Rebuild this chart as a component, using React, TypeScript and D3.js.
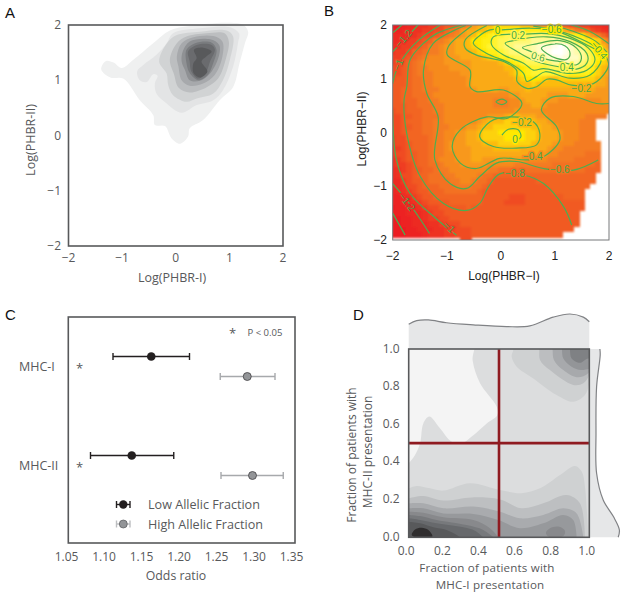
import React from 'react';
import * as d3 from 'd3';

type Pt = [number, number];

// panel A: density bands, outer to inner
const densityColors = ['#eff0f0', '#e3e4e5', '#d1d3d4', '#bcbec0', '#a7a9ac', '#8f9194', '#7a7c7f', '#6a6b6e', '#58595b'];
const densityBands: Pt[][] = [
  [[-1.39, 1.2], [-1.3, 1.35], [-1.16, 1.32], [-1.01, 1.22], [-0.79, 1.37], [-0.42, 1.67], [-0.11, 1.9], [0.26, 1.98], [0.95, 2.04], [1.26, 2.0], [1.35, 1.88], [1.29, 1.67], [1.19, 1.31], [1.07, 0.88], [0.82, 0.64], [0.51, 0.28], [0.26, 0.13], [0.23, -0.02], [0.08, -0.15], [-0.08, -0.05], [-0.2, 0.17], [-0.39, 0.19], [-0.42, 0.37], [-0.67, 0.64], [-0.98, 1.03], [-1.22, 1.05]],
  [[-0.72, 1.16], [-0.6, 1.28], [-0.36, 1.46], [-0.17, 1.67], [-0.05, 1.85], [0.45, 1.94], [1.01, 1.96], [1.18, 1.85], [1.16, 1.67], [1.07, 1.25], [0.88, 0.82], [0.7, 0.64], [0.39, 0.55], [0.11, 0.41], [-0.17, 0.58], [-0.36, 0.76], [-0.39, 0.94], [-0.34, 1.08], [-0.42, 1.11], [-0.54, 0.97], [-0.67, 1.0]],
  [[-0.31, 1.34], [-0.14, 1.7], [0.02, 1.82], [0.45, 1.88], [0.95, 1.9], [1.07, 1.79], [1.01, 1.37], [0.88, 1.0], [0.7, 0.76], [0.39, 0.67], [0.2, 0.61], [-0.05, 0.73], [-0.14, 0.91], [-0.17, 1.12]],
  [[-0.11, 1.37], [0.02, 1.67], [0.2, 1.79], [0.57, 1.85], [0.91, 1.85], [0.99, 1.7], [0.93, 1.37], [0.79, 1.03], [0.57, 0.87], [0.26, 0.78], [0.05, 0.87], [-0.03, 1.1]],
  [[0.02, 1.43], [0.11, 1.67], [0.33, 1.78], [0.7, 1.8], [0.87, 1.7], [0.87, 1.43], [0.73, 1.1], [0.51, 0.94], [0.26, 0.9], [0.11, 1.0], [0.05, 1.25]],
  [[0.13, 1.52], [0.26, 1.7], [0.64, 1.74], [0.81, 1.64], [0.81, 1.46], [0.67, 1.16], [0.45, 0.99], [0.26, 1.0], [0.17, 1.19], [0.11, 1.34]],
  [[0.2, 1.55], [0.36, 1.67], [0.67, 1.68], [0.76, 1.55], [0.7, 1.31], [0.6, 1.1], [0.42, 1.0], [0.26, 1.13], [0.2, 1.31]],
  [[0.23, 1.52], [0.39, 1.64], [0.67, 1.64], [0.73, 1.55], [0.64, 1.34], [0.57, 1.16], [0.42, 1.03], [0.29, 1.16], [0.26, 1.34]],
  [[0.34, 1.55], [0.51, 1.59], [0.67, 1.52], [0.57, 1.43], [0.48, 1.34], [0.59, 1.16], [0.45, 1.05], [0.33, 1.13], [0.33, 1.31], [0.39, 1.4]],
];

// panel B: cell values, a = -1.5 up to z = 1.0 in steps of 0.1, dot = no data
const heatRows = [
  'aabccddeef gghijlmnno oooonnmlkj ihgffeeddc c',
  'bbccddeeff hijlmmnnop pqqqqqqqpp pomljihfed c',
  'cccddeffgh ijklmnppqr rssssstttt tsrqqpnljh f',
  'ccdeefghjj klmmnppqqr ssttttuuuu vvutsrqpol j',
  'cdeefghjjk llmmnopqrr sttuuuvwxx yzywutrqon l',
  'deefhhijjk llmmmnopqq rsttuuvwxy zzywvusrpo n',
  'eefghijkkk lllmmmmnop qqrsstuuvw xyxwwutrqo n',
  'efghijkkkk lllllmmmmm nopqrsssst uuvvvtsrpo n',
  'ffghijjkkk kllllmmmmm mnnopqrrrs sssstsrqon m',
  'ffghijjjkk kkkllmmmmm mmnopqrrrr rrrqqqqpom m',
  'fgghiijjkk kkkklmmmmm mmmnopppon nooooooonm l',
  'ggghiijjkk kkkklmmmmm mmmmnnonnn nnnnnnnnmm l',
  'gghhiijjjk kkkkklmmmm llmmmnmmmm mmmmmmmmll l',
  'gghhiiijkk kkkkkkkkkk kkllmmmmml lllmmmllll l',
  'gghhhiijjk kkkkkkkkkj jjkklmmmll lkkkkkkkkl l',
  'ggghhiiijj kkkkkkkkkj jjkkllmmlk kkkkkkkkkk k',
  'fgghhhiijj kkkkkkkkkk kkklllllkk kkkkkkkkkk k',
  'ffgghhiiij kkkkkkkkll lmnnmmmllk kkkkkkjjjj .',
  'ffghhhiijj kkkkkklmnn nooonnnmml kkkkkjjj.. .',
  'ffgghhiijj jkkkllmnno oooooonnmm lkkkkjjj.. .',
  'ffghhhiijj kkllmmnooo pppppoonmm mlkkkjjj.. .',
  'effhhhhijj kkllmmnooo oppppoonmm mlkkkjjj.. .',
  'effghhhijj klllmmmnnn oooooonmmm lkkkjjjjj. .',
  'eefghhhijj kllllmmmmn nnnnmmmmml kkjjjjjjj. .',
  'effgghhijj kklllmmmmm mmmmmmmmlk kjjjjjiii. .',
  'defgghhijk kklllmmlll lllllkkkkj jjjjiiiii. .',
  'deefghhiij kkklllllkk kkkjjjjjjj iiiiiiiih. .',
  'cdefgghhij jkkkkkkkjj iiiiiiiiii iiiiiihhh. .',
  'cdffghhiii jjkkkkjiih hhhhhhhhhh hhhhhhhh.. .',
  'ccefgghiii ijjkkjiihg ggggggghhh hhhhhhhh.. .',
  'ccdffghhhi iijjjiihgg gggggggggh hhhhhhh... .',
  'bcdefgghhh iiiiiihggg gggggggggg hhhhhh.... .',
  'bbcdefgghh hhhhhhhggg ggfffggggg gghhhh.... .',
  'bbccdefggg ghhhhhhggg gffffggggg gggggg.... .',
  'abbccdeffg gggghggggg gggggggggg gggggg.... .',
  'bbbcccdeff gggggggggg gggggggggg ggggg..... .',
  'aabbccdeef fggggggggg gggggggggg ggggg..... .',
  'aabbcccdde fffggggggg gggggggggg ggggg..... .',
  'aaabbcccdd eefffggggg gggggggggg gggg...... .',
  'aaabbbcddd eefffggggg gggggggggg gg........ .',
  '.......... ...ff..... .......... .......... .',
];

// panel B: contour lines
const openContours: Pt[][] = [
  [[-1.99, 1.86], [-1.83, 2.0]],
  [[-2, 1.5], [-1.68, 1.84], [-1.53, 2.0]],
  [[-2, 0.91], [-1.93, 1.16], [-1.77, 1.44], [-1.53, 1.71], [-1.12, 2.0]],
  [[-0.72, 2], [-1.19, 1.84], [-1.43, 1.66], [-1.68, 1.35], [-1.74, 0.85], [-1.79, 0.6], [-1.74, -0.02], [-1.49, -0.82], [-1.06, -1.32], [-0.63, -1.45], [-0.39, -1.32], [-0.23, -1.01], [-0.02, -0.77], [0.42, -0.79], [0.79, -0.95], [1.16, -1.38], [1.31, -1.72]],
  [[-0.65, 1.99], [-1.25, 1.66], [-1.43, 1.16], [-1.37, 0.73], [-1.16, 0.29], [-1.22, -0.51], [-0.94, -0.95], [-0.63, -1.04], [-0.39, -0.82], [-0.08, -0.57], [0.29, -0.54], [0.79, -0.67], [1.34, -0.7], [1.8, -0.51]],
  [[-0.54, 1.98], [-0.97, 1.6], [-0.99, 1.44], [-0.57, 1.16], [-0.57, 0.85], [-0.45, 0.76], [0.05, 0.79], [0.39, 0.54], [0.11, 0.26], [-0.26, 0.29], [-0.75, 0.05], [-0.9, -0.26], [-0.75, -0.57], [-0.45, -0.67], [-0.02, -0.48], [0.48, -0.51], [0.79, -0.45], [1.09, -0.14], [1.03, 0.11], [0.75, 0.42], [0.91, 0.64], [1.34, 0.67], [1.77, 0.54], [2.0, 0.54]],
  [[-0.26, 1.99], [-0.66, 1.72], [-0.66, 1.57], [-0.45, 1.44], [0.05, 1.32], [0.29, 1.16], [0.3, 0.95], [0.48, 0.82], [0.66, 0.85], [0.85, 0.99], [1.03, 0.98], [1.31, 0.88], [1.71, 0.91], [1.96, 1.16], [2, 1.29]],
  [[0.02, -0.05], [0.14, 0.06], [0.32, 0.05], [0.37, -0.08], [0.26, -0.16]],
  [[-2, -0.95], [-1.74, -1.26], [-1.5, -1.6], [-1.32, -1.88]],
  [[-2, -1.5], [-1.77, -1.91]],
  [[-2, 0.42], [-1.93, -0.51], [-1.68, -1.13], [-1.2, -1.6], [-0.82, -1.91]],
  [[0.6, 1.98], [1.0, 1.9], [1.55, 1.65], [1.95, 1.4], [2, 1.2]],
  [[0.95, 2], [1.4, 1.86], [1.75, 1.7], [2, 1.45]],
  [[1.3, 2], [1.65, 1.88], [2, 1.65]],
];
const closedContours: Pt[][] = [
  [[-0.09, 0.57], [0.02, 0.62], [0.11, 0.57], [0.02, 0.52]],
  [[-0.39, -0.08], [-0.2, 0.2], [0.17, 0.29], [0.6, 0.2], [0.72, -0.02], [0.66, -0.23], [0.29, -0.29], [-0.14, -0.26]],
  [[-0.2, 1.91], [-0.42, 1.78], [-0.51, 1.66], [-0.26, 1.47], [0.17, 1.29], [0.42, 1.1], [0.48, 0.95], [0.66, 1.04], [0.82, 1.13], [1.28, 1.01], [1.65, 1.07], [1.86, 1.35], [1.77, 1.57], [1.46, 1.75], [0.97, 1.91], [0.54, 1.94], [0.02, 1.91]],
  [[0.2, 1.83], [-0.14, 1.78], [-0.17, 1.63], [0.05, 1.44], [0.42, 1.29], [0.6, 1.16], [0.79, 1.19], [1.28, 1.1], [1.59, 1.16], [1.74, 1.35], [1.62, 1.57], [1.28, 1.75], [0.85, 1.84], [0.39, 1.83]],
  [[0.08, 1.66], [0.23, 1.71], [0.85, 1.78], [1.28, 1.69], [1.59, 1.47], [1.59, 1.29], [1.4, 1.18], [1.09, 1.22], [0.66, 1.32], [0.26, 1.53]],
  [[0.4, 1.58], [0.66, 1.65], [1.09, 1.71], [1.4, 1.57], [1.49, 1.38], [1.4, 1.26], [1.09, 1.32], [0.85, 1.36], [0.57, 1.5]],
  [[0.75, 1.57], [1.0, 1.65], [1.19, 1.61], [1.28, 1.47], [1.22, 1.36], [1.03, 1.38], [0.85, 1.47]],
];
const contourLabels: { text: string; x: number; y: number; angle: number }[] = [
  { text: '−1.2', x: -1.8, y: 1.75, angle: -48 },
  { text: '−1', x: -1.9, y: 1.26, angle: -68 },
  { text: '0', x: -0.06, y: 1.89, angle: 0 },
  { text: '0.2', x: 0.32, y: 1.8, angle: 0 },
  { text: '−0.6', x: 0.94, y: 1.92, angle: 0 },
  { text: '0.6', x: 0.69, y: 1.41, angle: 15 },
  { text: '0.4', x: 1.22, y: 1.21, angle: 0 },
  { text: '−0.4', x: 1.82, y: 1.53, angle: 50 },
  { text: '−0.2', x: 1.49, y: 0.82, angle: 0 },
  { text: '−0.2', x: 0.39, y: 0.18, angle: 0 },
  { text: '0', x: 0.26, y: -0.13, angle: 0 },
  { text: '−0.4', x: 0.59, y: -0.45, angle: 0 },
  { text: '−0.6', x: 1.09, y: -0.69, angle: 0 },
  { text: '−0.8', x: 0.26, y: -0.77, angle: 0 },
  { text: '−1.2', x: -1.74, y: -1.29, angle: 52 },
  { text: '−1', x: -0.95, y: -1.76, angle: 45 },
];

// panel C
const classes = ['MHC-I', 'MHC-II'];
const lowOdds = [1.163, 1.137];
const lowLo = [1.112, 1.082];
const lowHi = [1.214, 1.193];
const highOdds = [1.291, 1.298];
const highLo = [1.255, 1.256];
const highHi = [1.328, 1.339];
const oddsTicks = [1.05, 1.1, 1.15, 1.2, 1.25, 1.3, 1.35];

// panel D
const fracTicks = [0, 0.2, 0.4, 0.6, 0.8, 1];
const topMarginalX = [0, 0.044, 0.109, 0.21, 0.358, 0.542, 0.671, 0.8, 0.893, 0.967, 1];
const topMarginal = [0.71, 0.81, 0.83, 0.75, 0.69, 0.64, 0.66, 0.91, 1.0, 0.91, 0.78];
const rightMarginalY = [1, 0.968, 0.8, 0.552, 0.34, 0.198, 0.11, 0.039, 0];
const rightMarginal = [0.33, 0.34, 0.22, 0.2, 0.22, 0.44, 0.78, 0.98, 0.94];
const lightRegion: Pt[] = [[-0.05, 1.05], [0.36, 1.05], [0.354, 0.94], [0.395, 0.818], [0.487, 0.694], [0.491, 0.65], [0.432, 0.605], [0.349, 0.535], [0.303, 0.503], [0.238, 0.508], [0.173, 0.579], [0.114, 0.641], [0.081, 0.605], [0.063, 0.499], [0.035, 0.437], [0, 0.393], [-0.05, 0.35]];
const floorColors = ['#cfd1d2', '#bdbfc1', '#a9abae', '#97999c', '#88898c', '#77797c', '#67696c', '#58595b'];
const floorBands: Pt[][] = [
  [[0, 0.26], [0.044, 0.273], [0.118, 0.26], [0.192, 0.248], [0.339, 0.287], [0.506, 0.251], [0.625, 0.234], [0.727, 0.26], [0.838, 0.331], [0.921, 0.379], [0.958, 0.349], [0.976, 0.269], [0.994, 0.0]],
  [[0, 0.207], [0.081, 0.219], [0.192, 0.195], [0.349, 0.212], [0.506, 0.201], [0.625, 0.154], [0.745, 0.181], [0.875, 0.225], [0.948, 0.181], [0.976, 0.0]],
  [[0, 0.181], [0.081, 0.181], [0.192, 0.154], [0.358, 0.163], [0.506, 0.136], [0.616, 0.101], [0.745, 0.119], [0.856, 0.154], [0.93, 0.127], [0.967, 0.0]],
  [[0, 0.154], [0.081, 0.154], [0.192, 0.127], [0.358, 0.124], [0.496, 0.092], [0.616, 0.048], [0.745, 0.074], [0.856, 0.119], [0.911, 0.092], [0.93, 0.0]],
  [[0, 0.136], [0.081, 0.131], [0.192, 0.106], [0.358, 0.092], [0.45, 0.048], [0.496, 0.0]],
  [[0, 0.119], [0.063, 0.113], [0.155, 0.092], [0.321, 0.065], [0.413, 0.039], [0.469, 0.0]],
  [[0, 0.101], [0.063, 0.092], [0.155, 0.074], [0.303, 0.053], [0.367, 0.035], [0.413, 0.0]],
  [[0, 0.083], [0.063, 0.074], [0.137, 0.053], [0.21, 0.039], [0.266, 0.012], [0.284, 0.0]],
];
const floorPeak: Pt[] = [[0.017, 0.012], [0.035, 0.042], [0.072, 0.051], [0.109, 0.039], [0.131, 0.004], [0.07, -0.01]];
const sidePeak: Pt[] = [[0.76, 0.025], [0.782, 0.048], [0.828, 0.057], [0.865, 0.035], [0.856, 0.007], [0.773, 0.004]];
const cornerColors = ['#cfd1d2', '#bcbec0', '#a7a9ac', '#939598', '#7f8184'];
const cornerBands: Pt[][] = [
  [[0.579, 1.05], [0.579, 0.995], [0.57, 0.96], [0.598, 0.906], [0.69, 0.844], [0.819, 0.756], [0.911, 0.72], [0.976, 0.756], [1.0, 0.818], [1.05, 1.05]],
  [[0.72, 1.05], [0.723, 0.995], [0.727, 0.942], [0.782, 0.888], [0.911, 0.809], [0.967, 0.818], [1.0, 0.862], [1.05, 1.05]],
  [[0.797, 1.05], [0.797, 0.995], [0.804, 0.942], [0.856, 0.888], [0.93, 0.85], [0.994, 0.871], [1.05, 1.05]],
  [[0.85, 1.05], [0.849, 0.995], [0.856, 0.95], [0.902, 0.906], [0.958, 0.888], [1.05, 0.924], [1.05, 1.05]],
  [[0.893, 1.05], [0.893, 0.995], [0.902, 0.95], [0.948, 0.927], [0.994, 0.95], [1.05, 0.93], [1.05, 1.05]],
];

const sans = "'Open Sans', sans-serif";
const helv = "'Liberation Sans', Arial, sans-serif";
const grey = '#58595b';
const green = '#4cae50';
const fmtMinus = (v: number) => String(v).replace('-', '−');

const heatColor = d3
  .scaleLinear<string>()
  .domain([-1.5, -1.2, -0.9, -0.6, -0.4, -0.2, -0.1, 0, 0.2, 0.5, 0.8, 1])
  .range(['#ec1c24', '#ee3024', '#f15a24', '#f47c20', '#f8981c', '#fcbb10', '#fdd20a', '#fee900', '#fff430', '#fffa95', '#fffdd8', '#ffffff']);

const cellValue = (ch: string) => (ch === '.' ? null : -1.5 + (ch.charCodeAt(0) - 97) * 0.1);
const heatCells = heatRows.map((r) => r.replace(/ /g, '').split('').map(cellValue));

const App = () => {
  const xA = d3.scaleLinear().domain([-2, 2]).range([68.5, 283]);
  const yA = d3.scaleLinear().domain([-2, 2]).range([246, 25]);
  const xB = d3.scaleLinear().domain([-2, 2]).range([392.7, 609]);
  const yB = d3.scaleLinear().domain([-2, 2]).range([240, 25]);
  const xC = d3.scaleLinear().domain([1.05, 1.35]).range([66.5, 291.5]);
  const yC = d3.scalePoint<string>().domain(classes).range([366.5, 465.5]);
  const xD = d3.scaleLinear().domain([0, 1]).range([408.7, 589.3]);
  const yD = d3.scaleLinear().domain([0, 1]).range([537.3, 349]);
  const topH = d3.scaleLinear().domain([0, 1]).range([349, 314]);
  const rightW = d3.scaleLinear().domain([0, 1]).range([590, 620]);

  const lineA = d3.line<Pt>().x((d) => xA(d[0])).y((d) => yA(d[1])).curve(d3.curveCatmullRomClosed.alpha(0.5));
  const openB = d3.line<Pt>().x((d) => xB(d[0])).y((d) => yB(d[1])).curve(d3.curveCatmullRom.alpha(0.5));
  const closedB = d3.line<Pt>().x((d) => xB(d[0])).y((d) => yB(d[1])).curve(d3.curveCatmullRomClosed.alpha(0.5));
  const lineD = d3.line<Pt>().x((d) => xD(d[0])).y((d) => yD(d[1])).curve(d3.curveCatmullRomClosed.alpha(0.5));
  // floor bands run from the left edge to the bottom, so close them along the bottom with straight lines
  const floorPath = (pts: Pt[]) => {
    const top = d3.line<Pt>().x((d) => xD(d[0])).y((d) => yD(d[1])).curve(d3.curveCatmullRom.alpha(0.5))(pts);
    return top + `L${xD(pts[pts.length - 1][0])},${yD(-0.02)}L${xD(-0.02)},${yD(-0.02)}L${xD(-0.02)},${yD(pts[0][1])}Z`;
  };
  const topArea = d3
    .area<number>()
    .x((d, i) => xD(topMarginalX[i]))
    .y0(topH(0))
    .y1((d) => topH(d))
    .curve(d3.curveCatmullRom.alpha(0.5));
  const rightArea = d3
    .area<number>()
    .y((d, i) => yD(rightMarginalY[i]))
    .x0(rightW(0))
    .x1((d) => rightW(d))
    .curve(d3.curveCatmullRom.alpha(0.5));

  const labelHalo = (x: number, y: number) => {
    const v = heatCells[Math.round((2 - y) * 10)][Math.round((x + 2) * 10)];
    return v === null ? '#fff' : heatColor(v);
  };

  return (
    <svg width={625} height={596} style={{ position: 'absolute', left: 0, top: 0, display: 'block' }}>
      <defs>
        <clipPath id="clipB"><rect x={392.7} y={25} width={216.3} height={215} /></clipPath>
        <clipPath id="clipD"><rect x={408.7} y={349} width={180.6} height={188.3} /></clipPath>
        <filter id="soften"><feGaussianBlur stdDeviation={0.9} /></filter>
      </defs>

      {/* A */}
      <text x={5} y={18} fontFamily={helv} fontSize={15} fill="#111">A</text>
      {densityBands.map((b, i) => <path key={i} d={lineA(b) as string} fill={densityColors[i]} />)}
      <rect x={68.5} y={25} width={214.5} height={221} fill="none" stroke={grey} strokeWidth={1.6} />
      {xA.ticks(4).map((t) => (
        <text key={t} x={xA(t)} y={262} textAnchor="middle" fontFamily={sans} fontSize={12} fill={grey}>{fmtMinus(t)}</text>
      ))}
      {yA.ticks(4).map((t) => (
        <text key={t} x={61} y={yA(t) + 4} textAnchor="end" fontFamily={sans} fontSize={12} fill={grey}>{fmtMinus(t)}</text>
      ))}
      <text x={172} y={282} textAnchor="middle" fontFamily={sans} fontSize={12.5} fill={grey}>Log(PHBR-I)</text>
      <text transform="translate(35,140) rotate(-90)" textAnchor="middle" fontFamily={sans} fontSize={12.5} fill={grey}>Log(PHBR-II)</text>

      {/* B */}
      <text x={324} y={16} fontFamily={helv} fontSize={15} fill="#111">B</text>
      <g clipPath="url(#clipB)">
        <g filter="url(#soften)" shapeRendering="crispEdges">
          {heatCells.map((row, k) =>
            row.map((v, c) =>
              v === null ? null : (
                <rect
                  key={k + '-' + c}
                  x={xB(-2.05 + c * 0.1)}
                  y={yB(2.05 - k * 0.1)}
                  width={xB(0.1) - xB(0) + 0.4}
                  height={yB(0) - yB(0.1) + 0.4}
                  fill={heatColor(v)}
                />
              )
            )
          )}
        </g>
      </g>
      <g clipPath="url(#clipB)" fill="none" stroke={green} strokeWidth={1.2}>
        {openContours.map((c, i) => <path key={i} d={openB(c) as string} />)}
        {closedContours.map((c, i) => <path key={i} d={closedB(c) as string} />)}
      </g>
      {contourLabels.map((l, i) => (
        <text
          key={i}
          transform={`translate(${xB(l.x)},${yB(l.y)}) rotate(${l.angle})`}
          dy={3.5}
          textAnchor="middle"
          fontFamily={helv}
          fontSize={10}
          fill="#3fa84a"
          stroke={labelHalo(l.x, l.y)}
          strokeWidth={3}
          style={{ paintOrder: 'stroke' }}
        >
          {l.text}
        </text>
      ))}
      <rect x={392.7} y={25} width={216.3} height={215} fill="none" stroke="#77787b" strokeWidth={1} />
      {xB.ticks(4).map((t) => (
        <text key={t} x={xB(t)} y={260} textAnchor="middle" fontFamily={helv} fontSize={12} fill="#222">{fmtMinus(t)}</text>
      ))}
      {yB.ticks(4).map((t) => (
        <text key={t} x={387} y={yB(t) + 4} textAnchor="end" fontFamily={helv} fontSize={12} fill="#222">{fmtMinus(t)}</text>
      ))}
      <text x={504} y={280} textAnchor="middle" fontFamily={helv} fontSize={12} fill="#222">Log(PHBR−I)</text>
      <text transform="translate(366,129) rotate(-90)" textAnchor="middle" fontFamily={helv} fontSize={12} fill="#222">Log(PHBR−II)</text>

      {/* C */}
      <text x={5} y={320} fontFamily={helv} fontSize={15} fill="#111">C</text>
      <rect x={68.3} y={317} width={226.7} height={226} fill="none" stroke={grey} strokeWidth={1.6} />
      {classes.map((c, i) => {
        const y = yC(c) as number;
        return (
          <g key={c}>
            <text x={19} y={y + 4} fontFamily={sans} fontSize={12.5} fill={grey}>{c}</text>
            <text x={79.5} y={y + 6} textAnchor="middle" fontFamily={sans} fontSize={13} fill={grey}>*</text>
            <g stroke="#231f20" strokeWidth={1.4}>
              <line x1={xC(lowLo[i])} x2={xC(lowHi[i])} y1={y - 10} y2={y - 10} />
              <line x1={xC(lowLo[i])} x2={xC(lowLo[i])} y1={y - 13.5} y2={y - 6.5} />
              <line x1={xC(lowHi[i])} x2={xC(lowHi[i])} y1={y - 13.5} y2={y - 6.5} />
            </g>
            <circle cx={xC(lowOdds[i])} cy={y - 10} r={4.3} fill="#231f20" />
            <g stroke="#a7a9ac" strokeWidth={1.4}>
              <line x1={xC(highLo[i])} x2={xC(highHi[i])} y1={y + 10} y2={y + 10} />
              <line x1={xC(highLo[i])} x2={xC(highLo[i])} y1={y + 6.5} y2={y + 13.5} />
              <line x1={xC(highHi[i])} x2={xC(highHi[i])} y1={y + 6.5} y2={y + 13.5} />
            </g>
            <circle cx={xC(highOdds[i])} cy={y + 10} r={4} fill="#939598" stroke="#414042" strokeWidth={0.8} />
          </g>
        );
      })}
      <text x={232.5} y={338} textAnchor="middle" fontFamily={sans} fontSize={13} fill={grey}>*</text>
      <text x={247.5} y={335.5} fontFamily={sans} fontSize={9.5} fill={grey}>P &lt; 0.05</text>
      <g stroke="#231f20" strokeWidth={1.4}>
        <line x1={116.5} x2={130} y1={504.5} y2={504.5} />
        <line x1={116.5} x2={116.5} y1={501} y2={508} />
        <line x1={130} x2={130} y1={501} y2={508} />
      </g>
      <circle cx={123.3} cy={504.5} r={4.2} fill="#231f20" />
      <g stroke="#bcbec0" strokeWidth={1.4}>
        <line x1={116.5} x2={130} y1={524} y2={524} />
        <line x1={116.5} x2={116.5} y1={520.5} y2={527.5} />
        <line x1={130} x2={130} y1={520.5} y2={527.5} />
      </g>
      <circle cx={123.3} cy={524} r={4} fill="#939598" stroke="#58595b" strokeWidth={0.7} />
      <text x={148} y={509} fontFamily={sans} fontSize={12.6} fill={grey}>Low Allelic Fraction</text>
      <text x={148} y={529} fontFamily={sans} fontSize={12.6} fill={grey}>High Allelic Fraction</text>
      {oddsTicks.map((t) => (
        <text key={t} x={xC(t)} y={560.5} textAnchor="middle" fontFamily={sans} fontSize={12} fill={grey}>{t.toFixed(2)}</text>
      ))}
      <text x={176} y={580} textAnchor="middle" fontFamily={sans} fontSize={12.3} fill={grey}>Odds ratio</text>

      {/* D */}
      <text x={353} y={320} fontFamily={helv} fontSize={15} fill="#111">D</text>
      <path d={topArea(topMarginal) as string} fill="#e6e7e8" />
      <path d={d3.line<number>().x((d, i) => xD(topMarginalX[i])).y((d) => topH(d)).curve(d3.curveCatmullRom.alpha(0.5))(topMarginal) as string} fill="none" stroke="#808285" strokeWidth={1.2} />
      <path d={rightArea(rightMarginal) as string} fill="#e6e7e8" />
      <path d={d3.line<number>().y((d, i) => yD(rightMarginalY[i])).x((d) => rightW(d)).curve(d3.curveCatmullRom.alpha(0.5))(rightMarginal) as string} fill="none" stroke="#808285" strokeWidth={1.2} />
      <g clipPath="url(#clipD)">
        <rect x={408.7} y={349} width={180.6} height={188.3} fill="#dcddde" />
        <path d={lineD(lightRegion) as string} fill="#f4f4f4" />
        {cornerBands.map((b, i) => <path key={i} d={lineD(b) as string} fill={cornerColors[i]} />)}
        {floorBands.map((b, i) => <path key={i} d={floorPath(b)} fill={floorColors[i]} />)}
        <path d={lineD(sidePeak) as string} fill="#88898c" />
        <path d={lineD(floorPeak) as string} fill="#2f2d2e" />
      </g>
      <line x1={xD(0.5)} x2={xD(0.5)} y1={yD(1)} y2={yD(0)} stroke="#8f1a20" strokeWidth={2.6} />
      <line x1={xD(0)} x2={xD(1)} y1={yD(0.5)} y2={yD(0.5)} stroke="#8f1a20" strokeWidth={2.6} />
      <rect x={408.7} y={349} width={180.6} height={188.3} fill="none" stroke={grey} strokeWidth={1.6} />
      {fracTicks.map((t) => (
        <text key={t} x={xD(t) - 2.5} y={554.5} textAnchor="middle" fontFamily={sans} fontSize={12} fill={grey}>{t.toFixed(1)}</text>
      ))}
      {fracTicks.map((t) => (
        <text key={t} x={399.5} y={yD(t) + 3.5} textAnchor="end" fontFamily={sans} fontSize={12} fill={grey}>{t.toFixed(1)}</text>
      ))}
      <text x={487} y={572} textAnchor="middle" fontFamily={sans} fontSize={11.6} letterSpacing={0.18} fill={grey}>Fraction of patients with</text>
      <text x={490} y={588.5} textAnchor="middle" fontFamily={sans} fontSize={11.6} letterSpacing={0.18} fill={grey}>MHC-I presentation</text>
      <text transform="translate(356,455) rotate(-90)" textAnchor="middle" fontFamily={sans} fontSize={12} fill={grey}>Fraction of patients with</text>
      <text transform="translate(372,452) rotate(-90)" textAnchor="middle" fontFamily={sans} fontSize={12} fill={grey}>MHC-II presentation</text>
    </svg>
  );
};

export default App;
